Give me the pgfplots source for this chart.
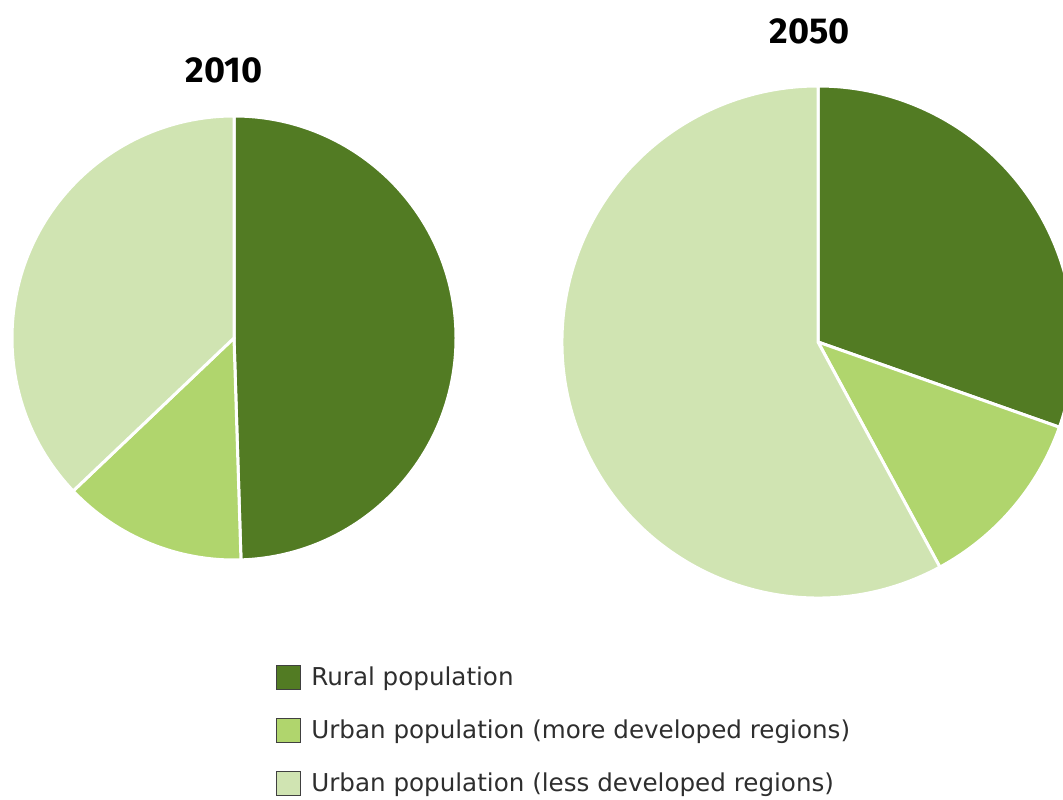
\documentclass[border=0pt]{standalone}
\usepackage{pgfplots}
\usepackage{pgfplotstable}
\pgfplotsset{compat=1.18}
\usepackage{fontspec}
\setmainfont{Fira Sans}
\newfontfamily\legfont{DejaVu Sans}

\definecolor{rural}{HTML}{527B23}
\definecolor{urbmore}{HTML}{B0D56D}
\definecolor{urbless}{HTML}{D0E4B2}
\definecolor{legtext}{HTML}{2E2E2E}

% share of world population (%), pie centre and radius in px
\pgfplotstableread{
year cx  cy  r   rural urbmore urbless
2010 234 461 222 49.5  13.4    37.1
2050 818 457 256 30.4  11.7    57.9
}\popdata

\def\pxunit{0.02}% cm per px
% read one row and keep centre, radius (cm) and slice angles as \<name>CX etc.
\newcommand\preppie[2]{%
  \pgfplotstablegetelem{#1}{cx}\of\popdata\expandafter\xdef\csname #2CX\endcsname{\pgfplotsretval}%
  \pgfplotstablegetelem{#1}{cy}\of\popdata\expandafter\xdef\csname #2CY\endcsname{\pgfplotsretval}%
  \pgfplotstablegetelem{#1}{r}\of\popdata\let\rr\pgfplotsretval
  \pgfplotstablegetelem{#1}{rural}\of\popdata\let\va\pgfplotsretval
  \pgfplotstablegetelem{#1}{urbmore}\of\popdata\let\vb\pgfplotsretval
  \pgfplotstablegetelem{#1}{urbless}\of\popdata\let\vc\pgfplotsretval
  \pgfmathsetmacro\tot{\va+\vb+\vc}%
  \pgfmathsetmacro\tmpA{90-(\va/\tot)*360}%
  \pgfmathsetmacro\tmpB{\tmpA-(\vb/\tot)*360}%
  \pgfmathsetmacro\tmpR{\rr*\pxunit}%
  \expandafter\xdef\csname #2ANGA\endcsname{\tmpA}%
  \expandafter\xdef\csname #2ANGB\endcsname{\tmpB}%
  \expandafter\xdef\csname #2RAD\endcsname{\tmpR}%
}

\tikzset{slice/.style={draw=white, line width=0.06cm, line join=round}}
% drawing inside the axis is deferred, so refer to the stored values by name
\newcommand\drawpie[1]{%
  \filldraw[slice, fill=rural]
    (axis cs:\csname #1CX\endcsname,\csname #1CY\endcsname) -- ++(90:\csname #1RAD\endcsname cm)
    arc[start angle=90, end angle=\csname #1ANGA\endcsname, radius=\csname #1RAD\endcsname cm] -- cycle;
  \filldraw[slice, fill=urbmore]
    (axis cs:\csname #1CX\endcsname,\csname #1CY\endcsname) -- ++(\csname #1ANGA\endcsname:\csname #1RAD\endcsname cm)
    arc[start angle=\csname #1ANGA\endcsname, end angle=\csname #1ANGB\endcsname, radius=\csname #1RAD\endcsname cm] -- cycle;
  \filldraw[slice, fill=urbless]
    (axis cs:\csname #1CX\endcsname,\csname #1CY\endcsname) -- ++(\csname #1ANGB\endcsname:\csname #1RAD\endcsname cm)
    arc[start angle=\csname #1ANGB\endcsname, end angle=-270, radius=\csname #1RAD\endcsname cm] -- cycle;
}

\begin{document}
\begin{tikzpicture}
\preppie{0}{pieOne}
\preppie{1}{pieTwo}
\begin{axis}[
    x=0.02cm, y=0.02cm,
    xmin=0, xmax=1063, ymin=0, ymax=799,
    hide axis, clip=true,
    legend image code/.code={\draw[#1, draw=black!75, line width=0.6pt] (0cm,-0.24cm) rectangle (0.48cm,0.24cm);},
    legend cell align=left,
    legend style={at={(axis cs:270,139)}, anchor=north west, draw=none, fill=none,
        font=\legfont\fontsize{14}{17}\selectfont, text=legtext,
        row sep=0.535cm, column sep=0.16cm,
        nodes={inner sep=1.5pt}},
]
\addlegendimage{fill=rural}
\addlegendentry{Rural population}
\addlegendimage{fill=urbmore}
\addlegendentry{Urban population (more developed regions)}
\addlegendimage{fill=urbless}
\addlegendentry{Urban population (less developed regions)}

\drawpie{pieOne}
\drawpie{pieTwo}

\node[font=\bfseries\fontsize{20.5}{24}\selectfont] at (axis cs:224,729) {2010};
\node[font=\bfseries\fontsize{20.5}{24}\selectfont] at (axis cs:810,768) {2050};
\end{axis}
\pgfresetboundingbox
\path[use as bounding box] (current axis.south west) rectangle (current axis.north east);
\end{tikzpicture}
\end{document}
